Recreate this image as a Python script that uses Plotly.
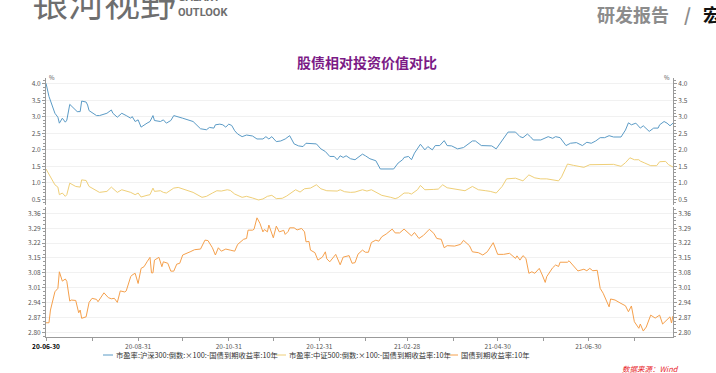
import plotly.graph_objects as go

# ---------------- data ----------------
dates_hs300 = ["2020-06-30","2020-07-02","2020-07-06","2020-07-08","2020-07-09","2020-07-11","2020-07-13","2020-07-14","2020-07-16","2020-07-20",
               "2020-07-21","2020-07-23","2020-07-24","2020-07-27","2020-07-28","2020-07-29","2020-08-01","2020-08-03","2020-08-05","2020-08-08",
               "2020-08-10","2020-08-13","2020-08-14","2020-08-17","2020-08-20","2020-08-23","2020-08-26","2020-08-27","2020-08-29","2020-08-31",
               "2020-09-02","2020-09-06","2020-09-08","2020-09-10","2020-09-11","2020-09-15","2020-09-17","2020-09-19","2020-09-22","2020-09-24",
               "2020-09-27","2020-09-30","2020-10-07","2020-10-12","2020-10-16","2020-10-18","2020-10-21","2020-10-22","2020-10-25","2020-10-27",
               "2020-10-29","2020-10-31","2020-11-02","2020-11-04","2020-11-06","2020-11-09","2020-11-12","2020-11-16","2020-11-19","2020-11-23",
               "2020-11-25","2020-11-27","2020-11-29","2020-12-02","2020-12-05","2020-12-08","2020-12-11","2020-12-14","2020-12-17","2020-12-20",
               "2020-12-22","2020-12-26","2020-12-29","2021-01-01","2021-01-04","2021-01-07","2021-01-10","2021-01-12","2021-01-14","2021-01-16",
               "2021-01-18","2021-01-21","2021-01-24","2021-01-26","2021-01-29","2021-01-31","2021-02-03","2021-02-07","2021-02-10","2021-02-19",
               "2021-02-22","2021-02-25","2021-02-26","2021-03-01","2021-03-03","2021-03-05","2021-03-09","2021-03-12","2021-03-14","2021-03-17",
               "2021-03-19","2021-03-22","2021-03-25","2021-03-27","2021-03-30","2021-04-03","2021-04-07","2021-04-13","2021-04-15","2021-04-19",
               "2021-04-23","2021-04-26","2021-04-29","2021-05-03","2021-05-07","2021-05-12","2021-05-15","2021-05-17","2021-05-20","2021-05-22",
               "2021-05-24","2021-05-29","2021-06-03","2021-06-06","2021-06-08","2021-06-11","2021-06-15","2021-06-18","2021-06-22","2021-06-26",
               "2021-06-29","2021-07-02","2021-07-05","2021-07-08","2021-07-11","2021-07-14","2021-07-17","2021-07-22","2021-07-25","2021-07-27",
               "2021-07-29","2021-08-01","2021-08-04","2021-08-06","2021-08-10","2021-08-13","2021-08-16","2021-08-17","2021-08-20","2021-08-22",
               "2021-08-24","2021-08-26"]
hs300 = [4.02,3.62,3.11,2.99,2.81,2.96,2.84,2.90,3.38,3.21,
         3.16,3.16,3.48,3.45,3.36,3.19,3.11,3.04,3.04,3.09,
         3.11,3.21,3.11,2.99,3.11,3.04,2.96,3.01,2.86,2.91,
         2.69,2.81,2.86,3.04,2.89,2.86,2.91,2.81,2.89,3.04,
         3.01,2.96,2.86,2.64,2.61,2.68,2.66,2.76,2.78,2.76,
         2.69,2.78,2.74,2.58,2.48,2.40,2.45,2.42,2.33,2.33,
         2.40,2.33,2.40,2.25,2.27,2.33,2.43,2.18,2.12,2.10,
         2.20,2.18,2.18,2.03,1.95,1.80,1.80,1.70,1.82,1.77,
         1.82,1.73,1.70,1.77,1.87,1.82,1.73,1.67,1.42,1.42,
         1.60,1.70,1.77,1.80,1.70,1.90,2.17,2.00,2.10,2.00,
         2.13,2.13,2.28,2.13,2.12,2.03,2.07,2.27,2.27,2.13,
         2.12,2.12,2.03,2.27,2.54,2.54,2.40,2.37,2.48,2.40,
         2.30,2.30,2.40,2.35,2.40,2.37,2.13,2.20,2.22,2.13,
         2.23,2.20,2.27,2.37,2.37,2.43,2.39,2.39,2.60,2.82,
         2.76,2.81,2.66,2.73,2.56,2.66,2.66,2.76,2.86,2.81,
         2.73,2.81]

dates_zz500 = ["2020-06-30","2020-07-03","2020-07-06","2020-07-08","2020-07-09","2020-07-11","2020-07-13","2020-07-14","2020-07-16","2020-07-20",
               "2020-07-23","2020-07-24","2020-07-27","2020-07-29","2020-08-01","2020-08-05","2020-08-10","2020-08-13","2020-08-17","2020-08-20",
               "2020-08-26","2020-08-29","2020-08-31","2020-09-02","2020-09-06","2020-09-08","2020-09-10","2020-09-11","2020-09-15","2020-09-17",
               "2020-09-19","2020-09-24","2020-09-27","2020-09-30","2020-10-07","2020-10-13","2020-10-16","2020-10-20","2020-10-23","2020-10-26",
               "2020-10-30","2020-11-01","2020-11-04","2020-11-09","2020-11-12","2020-11-16","2020-11-20","2020-11-23","2020-11-26","2020-11-29",
               "2020-12-02","2020-12-06","2020-12-09","2020-12-15","2020-12-18","2020-12-21","2020-12-25","2020-12-29","2021-01-01","2021-01-05",
               "2021-01-08","2021-01-12","2021-01-14","2021-01-17","2021-01-21","2021-01-24","2021-01-29","2021-02-01","2021-02-04","2021-02-08",
               "2021-02-11","2021-02-17","2021-02-20","2021-02-22","2021-02-26","2021-03-01","2021-03-03","2021-03-07","2021-03-09","2021-03-12",
               "2021-03-16","2021-03-18","2021-03-21","2021-03-24","2021-03-27","2021-03-31","2021-04-05","2021-04-08","2021-04-13","2021-04-17",
               "2021-04-22","2021-04-25","2021-04-29","2021-05-03","2021-05-06","2021-05-12","2021-05-17","2021-05-21","2021-05-25","2021-05-29",
               "2021-06-02","2021-06-07","2021-06-10","2021-06-12","2021-06-16","2021-06-20","2021-06-27","2021-07-01","2021-07-08","2021-07-14",
               "2021-07-17","2021-07-22","2021-07-25","2021-07-28","2021-07-31","2021-08-03","2021-08-04","2021-08-07","2021-08-11","2021-08-15",
               "2021-08-17","2021-08-21","2021-08-23","2021-08-26"]
zz500 = [1.42,1.19,0.94,0.87,0.64,0.69,0.59,0.64,0.99,0.89,
         0.87,1.09,1.07,0.89,0.81,0.71,0.74,0.87,0.71,0.79,
         0.71,0.64,0.69,0.57,0.62,0.64,0.84,0.74,0.76,0.71,
         0.69,0.84,0.86,0.81,0.71,0.56,0.59,0.69,0.76,0.75,
         0.79,0.77,0.66,0.56,0.59,0.54,0.48,0.51,0.59,0.62,
         0.52,0.53,0.60,0.79,0.72,0.82,0.84,0.94,0.82,0.76,
         0.76,0.75,0.79,0.73,0.71,0.72,0.79,0.75,0.79,0.69,
         0.62,0.56,0.52,0.55,0.69,0.69,0.66,0.79,0.92,0.79,
         0.81,0.80,0.81,0.94,0.85,0.82,0.79,0.76,0.89,0.79,
         0.76,0.74,0.69,0.89,1.12,1.14,1.06,1.24,1.15,1.12,
         1.12,1.09,1.06,1.18,1.57,1.53,1.47,1.55,1.56,1.56,
         1.56,1.50,1.61,1.76,1.70,1.70,1.66,1.60,1.52,1.52,
         1.64,1.65,1.55,1.48]

dates_bond = ["2020-06-30","2020-07-02","2020-07-03","2020-07-06","2020-07-08","2020-07-09","2020-07-11","2020-07-13","2020-07-14","2020-07-16",
              "2020-07-17","2020-07-20","2020-07-22","2020-07-23","2020-07-24","2020-07-27","2020-07-29","2020-07-31","2020-08-03","2020-08-04",
              "2020-08-08","2020-08-11","2020-08-13","2020-08-15","2020-08-17","2020-08-19","2020-08-22","2020-08-23","2020-08-26","2020-08-27",
              "2020-08-29","2020-08-31","2020-09-02","2020-09-04","2020-09-06","2020-09-08","2020-09-09","2020-09-10","2020-09-11","2020-09-14",
              "2020-09-16","2020-09-17","2020-09-20","2020-09-22","2020-09-24","2020-09-26","2020-09-28","2020-09-30","2020-10-05","2020-10-08",
              "2020-10-12","2020-10-15","2020-10-17","2020-10-20","2020-10-22","2020-10-24","2020-10-26","2020-10-29","2020-11-01","2020-11-04",
              "2020-11-06","2020-11-10","2020-11-12","2020-11-13","2020-11-16","2020-11-17","2020-11-19","2020-11-21","2020-11-23","2020-11-24",
              "2020-11-26","2020-11-27","2020-11-30","2020-12-02","2020-12-04","2020-12-07","2020-12-08","2020-12-10","2020-12-11","2020-12-14",
              "2020-12-16","2020-12-19","2020-12-21","2020-12-22","2020-12-24","2020-12-25","2020-12-28","2020-12-30","2021-01-02","2021-01-04",
              "2021-01-05","2021-01-07","2021-01-11","2021-01-14","2021-01-16","2021-01-20","2021-01-22","2021-01-24","2021-01-26","2021-01-29",
              "2021-01-31","2021-02-02","2021-02-04","2021-02-07","2021-02-09","2021-02-11","2021-02-14","2021-02-18","2021-02-20","2021-02-23",
              "2021-02-26","2021-03-01","2021-03-03","2021-03-05","2021-03-08","2021-03-11","2021-03-15","2021-03-18","2021-03-20","2021-03-23",
              "2021-03-25","2021-03-27","2021-03-30","2021-04-01","2021-04-05","2021-04-07","2021-04-11","2021-04-13","2021-04-17","2021-04-20",
              "2021-04-23","2021-04-27","2021-04-30","2021-05-04","2021-05-08","2021-05-12","2021-05-13","2021-05-15","2021-05-17","2021-05-19",
              "2021-05-21","2021-05-23","2021-05-25","2021-05-28","2021-05-30","2021-06-01","2021-06-02","2021-06-06","2021-06-08","2021-06-10",
              "2021-06-11","2021-06-16","2021-06-17","2021-06-20","2021-06-23","2021-06-27","2021-06-29","2021-07-01","2021-07-03","2021-07-06",
              "2021-07-08","2021-07-10","2021-07-14","2021-07-15","2021-07-18","2021-07-22","2021-07-25","2021-07-27","2021-07-29","2021-07-31",
              "2021-08-03","2021-08-04","2021-08-06","2021-08-08","2021-08-11","2021-08-14","2021-08-17","2021-08-19","2021-08-22","2021-08-24",
              "2021-08-25","2021-08-26"]
bond10y = [2.845,2.845,2.905,2.991,3.007,3.085,3.041,3.051,3.040,2.947,
           2.952,2.950,2.892,2.905,2.866,2.873,2.941,2.960,2.955,2.944,
           2.986,2.963,2.958,2.960,2.941,2.995,2.990,2.995,3.062,3.070,
           3.078,3.030,3.101,3.109,3.132,3.153,3.080,3.080,3.140,3.153,
           3.109,3.132,3.125,3.088,3.088,3.121,3.125,3.164,3.179,3.189,
           3.192,3.234,3.232,3.198,3.164,3.198,3.182,3.192,3.187,3.182,
           3.214,3.238,3.242,3.281,3.281,3.285,3.339,3.313,3.273,3.284,
           3.273,3.305,3.245,3.300,3.273,3.280,3.261,3.275,3.292,3.292,
           3.282,3.289,3.273,3.226,3.228,3.187,3.175,3.140,3.154,3.179,
           3.146,3.132,3.167,3.118,3.154,3.161,3.125,3.128,3.168,3.187,
           3.177,3.177,3.223,3.234,3.229,3.250,3.263,3.286,3.268,3.268,
           3.286,3.266,3.254,3.270,3.242,3.256,3.285,3.266,3.242,3.238,
           3.198,3.208,3.208,3.206,3.214,3.233,3.208,3.179,3.175,3.164,
           3.179,3.222,3.167,3.167,3.172,3.148,3.160,3.140,3.161,3.148,
           3.078,3.085,3.078,3.101,3.070,3.035,3.062,3.104,3.117,3.110,
           3.130,3.130,3.137,3.115,3.089,3.097,3.090,3.101,3.090,3.092,
           3.007,2.984,2.920,2.957,2.952,2.936,2.925,2.897,2.924,2.850,
           2.819,2.839,2.806,2.825,2.881,2.867,2.881,2.839,2.858,2.873,
           2.844,2.877]

series_names = ["市盈率:沪深300:倒数:×100:-国债到期收益率:10年",
                "市盈率:中证500:倒数:×100:-国债到期收益率:10年",
                "国债到期收益率:10年"]

tick_dates = ["2020-06-30","2020-07-31","2020-08-31","2020-09-30","2020-10-31","2020-11-30","2020-12-31",
              "2021-01-31","2021-02-28","2021-03-31","2021-04-30","2021-05-31","2021-06-30","2021-07-31"]
tick_labels = ["<b><span style='color:#000'>20-06-30</span></b>","","20-08-31","","20-10-31","","20-12-31",
               "","21-02-28","","21-04-30","","21-06-30",""]

x_range = ["2020-06-30", "2021-08-26"]

# ---------------- styling ----------------
FONT = "Noto Sans CJK SC"
COLORS = ["#5b9bc6", "#efcf78", "#f5a04c"]
AX = "#9a9a9a"
GRID = "#f1f1f1"

W, H = 716, 373
L, R, T, B = 46, 43, 78, 36
PW, PH = W - L - R, H - T - B


def px(x):
    return (x - L) / PW


def py(y):
    return (H - B - y) / PH


fig = go.Figure()
fig.add_trace(go.Scatter(x=dates_hs300, y=hs300, name=series_names[0], mode="lines",
                         line=dict(color=COLORS[0], width=1), xaxis="x2", yaxis="y"))
fig.add_trace(go.Scatter(x=dates_zz500, y=zz500, name=series_names[1], mode="lines",
                         line=dict(color=COLORS[1], width=1), xaxis="x2", yaxis="y"))
fig.add_trace(go.Scatter(x=dates_bond, y=bond10y, name=series_names[2], mode="lines",
                         line=dict(color=COLORS[2], width=1), xaxis="x", yaxis="y2"))
# helpers so the mirrored right-hand axes are drawn
fig.add_trace(go.Scatter(x=dates_hs300[:1], y=hs300[:1], mode="lines", showlegend=False,
                         hoverinfo="skip", xaxis="x2", yaxis="y3"))
fig.add_trace(go.Scatter(x=dates_bond[:1], y=bond10y[:1], mode="lines", showlegend=False,
                         hoverinfo="skip", xaxis="x", yaxis="y4"))

tickfont = dict(family=FONT, size=6.5, color="#555")

top_dom = [py(205), 1.0]
bot_dom = [0.0, py(207)]
top_rng = [0.327, 4.18]
bot_rng = [2.778, 3.39]

common_y = dict(showline=True, linecolor=AX, linewidth=1, ticks="outside", ticklen=3,
                tickcolor=AX, tickfont=tickfont, zeroline=False, automargin=False)

fig.update_layout(
    width=W, height=H, paper_bgcolor="white", plot_bgcolor="white",
    margin=dict(l=L, r=R, t=T, b=B, autoexpand=False),
    font=dict(family=FONT, size=9, color="#333"),
    showlegend=False,
    xaxis=dict(domain=[0, 1], anchor="y2", type="date", range=x_range,
               tickmode="array", tickvals=tick_dates, ticktext=tick_labels,
               showline=True, linecolor=AX, linewidth=1, ticks="outside", ticklen=3,
               tickcolor=AX, tickfont=tickfont, showgrid=False, zeroline=False, automargin=False),
    xaxis2=dict(domain=[0, 1], anchor="y", type="date", matches="x",
                showticklabels=False, showline=False, ticks="", showgrid=False, zeroline=False),
    yaxis=dict(domain=top_dom, anchor="x2", range=top_rng, tickmode="linear", tick0=0.5, dtick=0.5,
               tickformat=".1f", showgrid=True, gridcolor=GRID, gridwidth=1,
               minor=dict(ticks="outside", ticklen=2, tickcolor=AX, dtick=0.1, showgrid=False),
               **common_y),
    yaxis3=dict(domain=top_dom, anchor="x2", overlaying="y", side="right", matches="y",
                range=top_rng, tickmode="linear", tick0=0.5, dtick=0.5, tickformat=".1f",
                showgrid=False,
                minor=dict(ticks="outside", ticklen=2, tickcolor=AX, dtick=0.1, showgrid=False),
                **common_y),
    yaxis2=dict(domain=bot_dom, anchor="x", range=bot_rng, tickmode="linear", tick0=2.80, dtick=0.07,
                tickformat=".2f", showgrid=True, gridcolor=GRID, gridwidth=1,
                minor=dict(ticks="outside", ticklen=2, tickcolor=AX, dtick=0.0175, showgrid=False),
                **common_y),
    yaxis4=dict(domain=bot_dom, anchor="x", overlaying="y2", side="right", matches="y2",
                range=bot_rng, tickmode="linear", tick0=2.80, dtick=0.07, tickformat=".2f",
                showgrid=False,
                minor=dict(ticks="outside", ticklen=2, tickcolor=AX, dtick=0.0175, showgrid=False),
                **common_y),
)

annos = [
    # page header fragments
    dict(text="银河视野", x=px(30), xanchor="left", y=py(1), yanchor="middle",
         font=dict(family=FONT, size=36, color="#6e6e6e")),
    dict(text="<b>GALAXY</b>", x=px(176), xanchor="left", y=py(-2), yanchor="middle",
         font=dict(family="Roboto", size=11, color="#6e6e6e")),
    dict(text="<b>OUTLOOK</b>", x=px(176), xanchor="left", y=py(12), yanchor="middle",
         font=dict(family="Roboto", size=11, color="#6e6e6e")),
    dict(text="<b>研发报告</b>", x=px(595), xanchor="left",
         y=py(14), yanchor="middle", font=dict(family=FONT, size=18, color="#8c8c8c")),
    dict(text="<b>/</b>", x=px(687), xanchor="center",
         y=py(14), yanchor="middle", font=dict(family=FONT, size=18, color="#8c8c8c")),
    dict(text="<b>宏</b>", x=px(701), xanchor="left",
         y=py(14), yanchor="middle", font=dict(family=FONT, size=18, color="#111")),
    # chart title
    dict(text="<b>股债相对投资价值对比</b>", x=px(367), xanchor="center", y=py(62), yanchor="middle",
         font=dict(family=FONT, size=14, color="#7b1a86")),
    # unit marks
    dict(text="%", x=px(47), xanchor="left", y=py(77), yanchor="middle",
         font=dict(family=FONT, size=6, color="#555")),
    dict(text="%", x=px(672), xanchor="right", y=py(77), yanchor="middle",
         font=dict(family=FONT, size=6, color="#555")),
    # source
    dict(text="<i>数据来源：Wind</i>", x=px(681), xanchor="right", y=py(368), yanchor="middle",
         font=dict(family=FONT, size=7.5, color="#e8262b")),
]

# custom compact legend (short swatch + label), as in the reference
legend_swatch_x = [103, 276, 448]
shapes = []
for i, name in enumerate(series_names):
    x0 = legend_swatch_x[i]
    shapes.append(dict(type="line", xref="paper", yref="paper", x0=px(x0), x1=px(x0 + 10),
                       y0=py(355), y1=py(355), line=dict(color=COLORS[i], width=1)))
    annos.append(dict(text=name, x=px(x0 + 11), xanchor="left", y=py(355), yanchor="middle",
                      font=dict(family=FONT, size=7.3, color="#333")))

for a in annos:
    a.update(xref="paper", yref="paper", showarrow=False)
fig.update_layout(annotations=annos, shapes=shapes)

# remove the browser's default 8px page margin so the figure sits at the window origin
fig.write_html("out.html", config={"displayModeBar": False},
               post_script="document.body.style.margin='0';document.body.style.overflow='hidden';")
